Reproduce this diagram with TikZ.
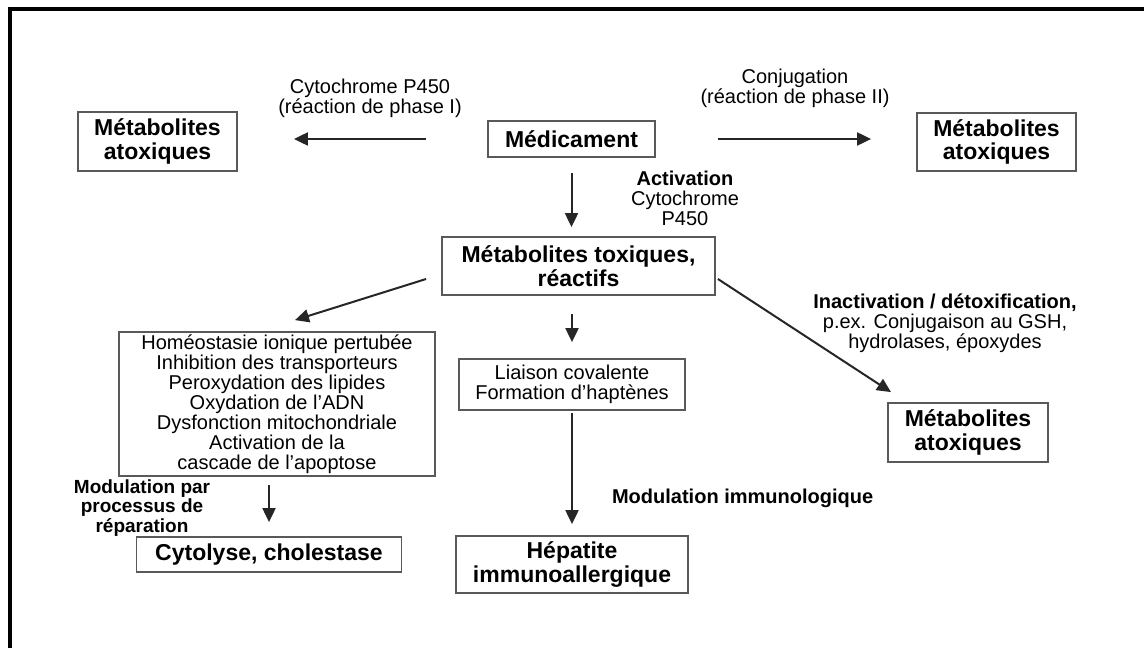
\documentclass[tikz,border=0pt]{standalone}
\usepackage{fontspec}
\setmainfont{Liberation Sans}
\usetikzlibrary{arrows.meta}
\tikzset{
  box/.style={draw=black!65, line width=0.9pt, align=center, inner sep=0pt,
    font=\bfseries\fontsize{11.5}{11.8}\selectfont},
  listbox/.style={draw=black!65, line width=0.9pt, align=center, inner sep=0pt,
    font=\fontsize{10}{10}\selectfont},
  lab/.style={align=center, font=\fontsize{10}{10}\selectfont},
  arr/.style={draw=black!85, line width=1pt, -{Triangle[length=7pt,width=6.5pt]}},
}
\begin{document}
\begin{tikzpicture}[x=0.5pt,y=-0.5pt]
\useasboundingbox (0,0) rectangle (1144,648);
% frame
\draw[line width=2pt] (10,648) -- (10,9) -- (1144,9);
% first row
\node[box, minimum width=79.5pt, minimum height=29.5pt] (metaL) at (157.5,141.5) {Métabolites\\atoxiques};
\node[box, minimum width=83.5pt, minimum height=18pt] (med) at (571.5,139) {Médicament};
\node[box, minimum width=79.5pt, minimum height=29pt] (metaR) at (996.5,142) {Métabolites\\atoxiques};
\node[lab] (cyp) at (370,98) {Cytochrome P450\\(réaction de phase I)};
\node[lab] (conj) at (795,88) {Conjugation\\(réaction de phase II)};
\draw[arr, shorten <=30.5pt, shorten >=28pt] (med.west) -- (metaL.east |- med.west);
\draw[arr, shorten <=31pt, shorten >=22.5pt] (med.east) -- (metaR.west |- med.east);
% reactive metabolites
\node[box, minimum width=136.5pt, minimum height=29pt] (tox) at (578.5,266) {Métabolites toxiques,\\réactifs};
\node[lab] (act) at (685,198) {{\bfseries Activation}\\Cytochrome\\P450};
\draw[arr, shorten <=7.5pt, shorten >=4.5pt] (med.south) -- (med.south |- tox.north);
% three branches
\node[listbox, minimum width=158pt, minimum height=72pt] (list) at (277,404)
  {Homéostasie ionique pertubée\\Inhibition des transporteurs\\Peroxydation des lipides\\Oxydation de l'ADN\\Dysfonction mitochondriale\\Activation de la\\cascade de l'apoptose};
\node[listbox, minimum width=113pt, minimum height=25.5pt] (liai) at (572,384.5) {Liaison covalente\\Formation d'haptènes};
\node[box, minimum width=80pt, minimum height=29.5pt] (metaB) at (968,432.5) {Métabolites\\atoxiques};
\node[lab] (inact) at (945,323) {{\bfseries Inactivation / détoxification,}\\p.ex. Conjugaison au GSH,\\hydrolases, époxydes};
\draw[arr] ([shift={(-15,13)}]tox.west) -- ([shift={(18,-11)}]list.north);
\draw[arr, shorten <=9pt, shorten >=8pt] (tox.south -| liai.north) -- (liai.north);
\draw[arr] ([shift={(2,13)}]tox.east) -- ([shift={(-77,-10)}]metaB.north);
% outcomes
\node[box, minimum width=132.5pt, minimum height=17.5pt] (cyto) at (269,554.5) {Cytolyse, cholestase};
\node[box, minimum width=116pt, minimum height=28.5pt] (hep) at (572,564.5) {Hépatite\\immunoallergique};
\node[lab, font=\bfseries\fontsize{9.5}{7.3}\selectfont] (repa) at (142,508) {Modulation par\\processus de\\réparation};
\node[lab, font=\bfseries\fontsize{10}{10}\selectfont, anchor=west] (immu) at (605,498) {Modulation immunologique};
\draw[arr, shorten <=4pt, shorten >=7pt] (list.south -| cyto.north) -- (cyto.north);
\draw[arr, shorten <=1pt, shorten >=5.5pt] (liai.south) -- (liai.south |- hep.north);
\end{tikzpicture}
\end{document}
